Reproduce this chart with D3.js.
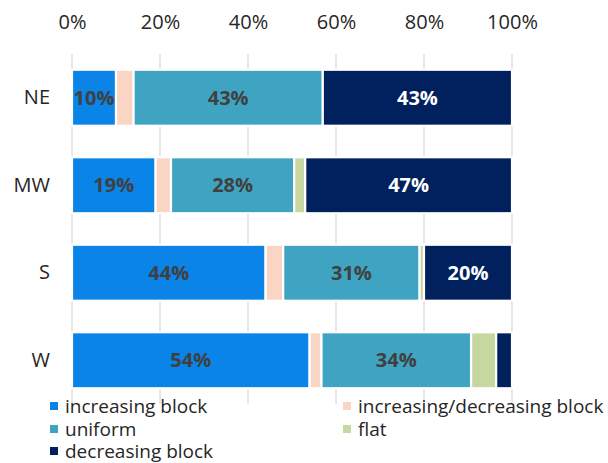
<!DOCTYPE html>
<html>
<head>
<meta charset="utf-8">
<script src="https://cdn.jsdelivr.net/npm/d3@7"></script>
<style>
  html, body { margin: 0; padding: 0; background: #fff; }
  svg { display: block; font-family: "Open Sans", "Noto Sans", sans-serif; }
</style>
</head>
<body>
<svg id="chart" width="608" height="463"></svg>
<script>
// Regions (top to bottom) and block-rate structure shares, in percent
const regions = ["NE", "MW", "S", "W"];
const seriesNames = ["increasing block", "increasing/decreasing block", "uniform", "flat", "decreasing block"];
const increasingBlock = [10, 19, 44, 54];
const incDecBlock = [4, 3.5, 4, 2.7];
const uniform = [43, 28, 31, 34];
const flat = [0, 2.5, 1, 5.7];
const decreasingBlock = [43, 47, 20, 3.6];
const tickValues = [0, 20, 40, 60, 80, 100];
const colors = ["#0A84E6", "#FBD5C3", "#3FA4C2", "#C6D8A0", "#00205E"];

const rows = regions.map((r, i) => ({
  region: r,
  "increasing block": increasingBlock[i],
  "increasing/decreasing block": incDecBlock[i],
  "uniform": uniform[i],
  "flat": flat[i],
  "decreasing block": decreasingBlock[i]
}));

const svg = d3.select("#chart");
const margin = { left: 72, right: 96, top: 54, bottom: 59 };
const W = 608, H = 463;

const x = d3.scaleLinear().domain([0, 100]).range([margin.left, W - margin.right]);
const y = d3.scaleBand().domain(regions).range([margin.top, H - margin.bottom]).paddingInner(0.36).paddingOuter(0.18);
const color = d3.scaleOrdinal().domain(seriesNames).range(colors);

// Vertical gridlines
svg.append("g")
  .selectAll("line")
  .data(tickValues)
  .join("line")
  .attr("x1", d => x(d)).attr("x2", d => x(d))
  .attr("y1", margin.top).attr("y2", H - margin.bottom)
  .attr("stroke", "#d9d9d9").attr("stroke-width", 1.3);

// Top percentage axis
const xAxis = svg.append("g")
  .attr("transform", `translate(0,${margin.top})`)
  .call(d3.axisTop(x).tickValues(tickValues).tickFormat(d => d + "%").tickSize(0).tickPadding(25));
xAxis.select(".domain").remove();
xAxis.selectAll("text").attr("font-size", 20).attr("fill", "#262626")
  .attr("font-family", "Open Sans, sans-serif");

// Region axis
const yAxis = svg.append("g")
  .attr("transform", `translate(${margin.left},0)`)
  .call(d3.axisLeft(y).tickSize(0).tickPadding(22));
yAxis.select(".domain").remove();
yAxis.selectAll("text").attr("font-size", 20).attr("fill", "#262626")
  .attr("font-family", "Open Sans, sans-serif");

// Stacked bars
const stack = d3.stack().keys(seriesNames);
const layers = stack(rows);

const layerG = svg.append("g").selectAll("g")
  .data(layers)
  .join("g")
  .attr("fill", d => color(d.key));

layerG.selectAll("rect")
  .data(d => d.map(v => ({ key: d.key, v })))
  .join("rect")
  .attr("x", d => x(d.v[0]))
  .attr("y", d => y(d.v.data.region))
  .attr("width", d => Math.max(0, x(d.v[1]) - x(d.v[0])))
  .attr("height", y.bandwidth())
  .attr("stroke", "#fff")
  .attr("stroke-width", 2.2);

// Value labels on the larger segments
const fmt = d3.format(".0f");
layerG.selectAll("text")
  .data(d => d.map(v => ({ key: d.key, v })).filter(d => (d.v[1] - d.v[0]) >= 9))
  .join("text")
  .attr("x", d => (x(d.v[0]) + x(d.v[1])) / 2)
  .attr("y", d => y(d.v.data.region) + y.bandwidth() / 2)
  .attr("dy", "0.35em")
  .attr("text-anchor", "middle")
  .attr("font-size", 20)
  .attr("font-weight", "bold")
  .attr("fill", d => d.key === "decreasing block" ? "#ffffff" : "#404040")
  .text(d => fmt(d.v[1] - d.v[0]) + "%");

// Legend
const legendPos = [
  { name: "increasing block", x: 50, y: 406 },
  { name: "increasing/decreasing block", x: 343, y: 406 },
  { name: "uniform", x: 50, y: 429 },
  { name: "flat", x: 343, y: 429 },
  { name: "decreasing block", x: 50, y: 451 }
];
const legend = svg.append("g").selectAll("g")
  .data(legendPos)
  .join("g")
  .attr("transform", d => `translate(${d.x},${d.y})`);
legend.append("rect")
  .attr("x", 0).attr("y", -4).attr("width", 8).attr("height", 8)
  .attr("fill", d => color(d.name));
legend.append("text")
  .attr("x", 15).attr("y", 0).attr("dy", "0.35em")
  .attr("font-size", 19).attr("fill", "#262626")
  .text(d => d.name);
</script>
</body>
</html>
